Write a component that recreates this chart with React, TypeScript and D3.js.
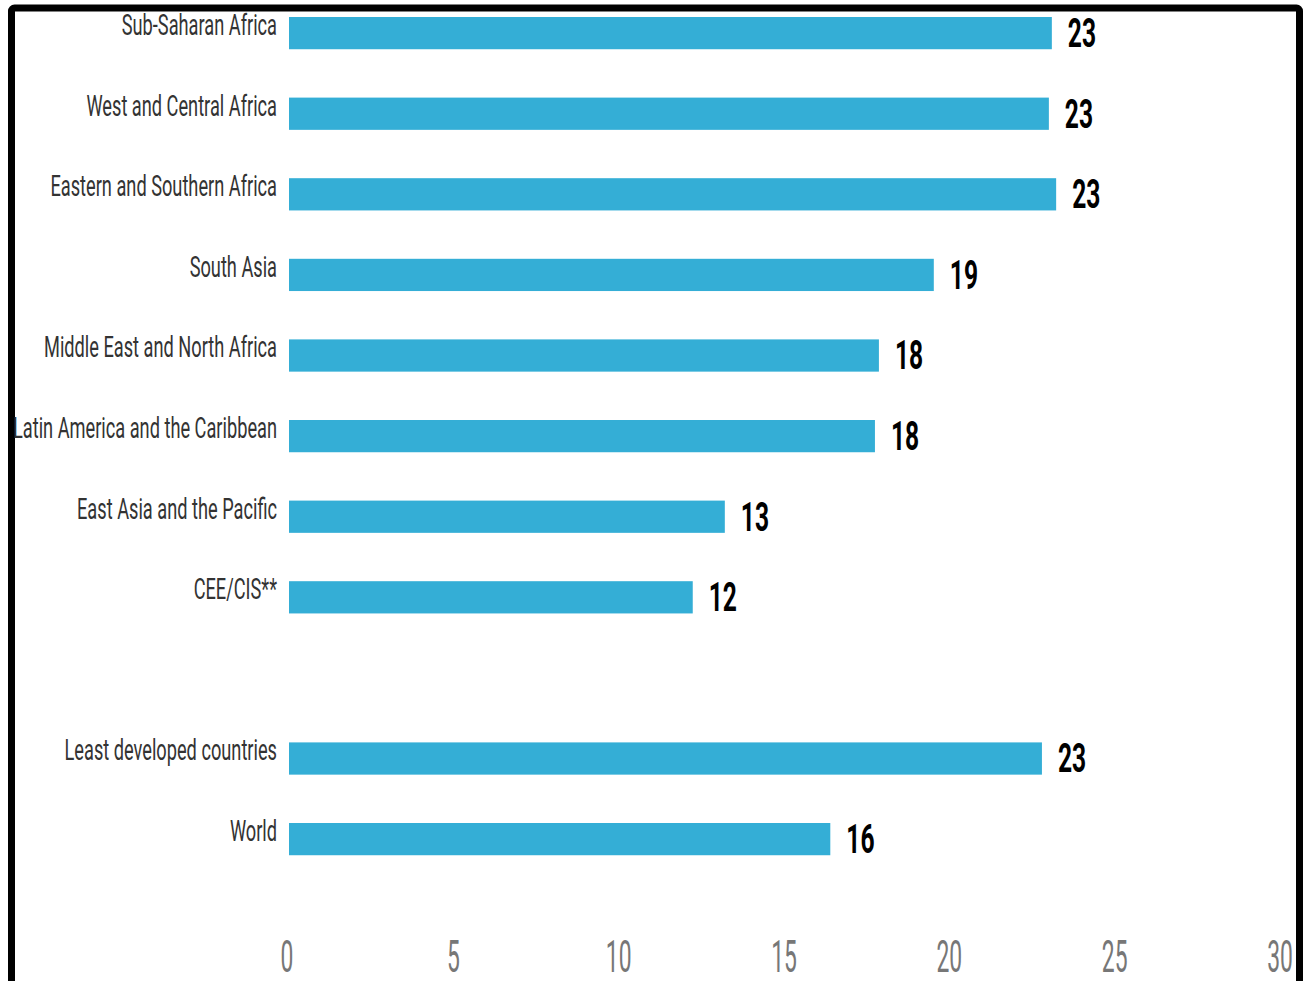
import React from "react";
import * as d3 from "d3";

const categories = [
  "Sub-Saharan Africa",
  "West and Central Africa",
  "Eastern and Southern Africa",
  "South Asia",
  "Middle East and North Africa",
  "Latin America and the Caribbean",
  "East Asia and the Pacific",
  "CEE/CIS**",
  "",
  "Least developed countries",
  "World",
];
const values = [23.07, 22.98, 23.2, 19.5, 17.84, 17.72, 13.18, 12.21, null, 22.77, 16.37];
const valueLabels = ["23", "23", "23", "19", "18", "18", "13", "12", "", "23", "16"];
const ticks = [0, 5, 10, 15, 20, 25, 30];

const W = 1304;
const H = 981;
const BAR = "#34AED6";

export default function App() {
  const x = d3.scaleLinear().domain([0, 30]).range([289, 1281]);
  const y = d3
    .scaleBand<string>()
    .domain(categories.map((c, i) => c || "gap" + i))
    .range([17, 17 + 80.6 * (categories.length - 0.6)])
    .paddingInner(0.6)
    .paddingOuter(0);

  return (
    <svg
      width={W}
      height={H}
      style={{ position: "absolute", left: 0, top: 0, background: "#fff" }}
      fontFamily="Roboto, 'Open Sans', sans-serif"
    >
      <rect x={11.5} y={8} width={1288} height={1100} rx={3} fill="none" stroke="#000" strokeWidth={7} />
      {categories.map((c, i) => {
        const key = c || "gap" + i;
        const v = values[i];
        if (v == null) return null;
        const top = y(key)!;
        return (
          <g key={key}>
            <rect x={x(0)} y={top} width={x(v) - x(0)} height={y.bandwidth()} fill={BAR} />
            <text
              transform={`translate(277,${top + 18}) scale(0.628,1)`}
              textAnchor="end"
              fontSize={29}
              fill="#333"
            >
              {c}
            </text>
            <text
              transform={`translate(${x(v) + 16},${top + 30}) scale(0.6,1)`}
              fontSize={41}
              fontWeight="bold"
              fill="#000"
            >
              {valueLabels[i]}
            </text>
          </g>
        );
      })}
      {ticks.map((t) => (
        <text
          key={t}
          transform={`translate(${x(t) - (t === 0 ? 2 : 1)},972) scale(0.52,1)`}
          textAnchor="middle"
          fontSize={44}
          fill="#777"
        >
          {t}
        </text>
      ))}
    </svg>
  );
}
